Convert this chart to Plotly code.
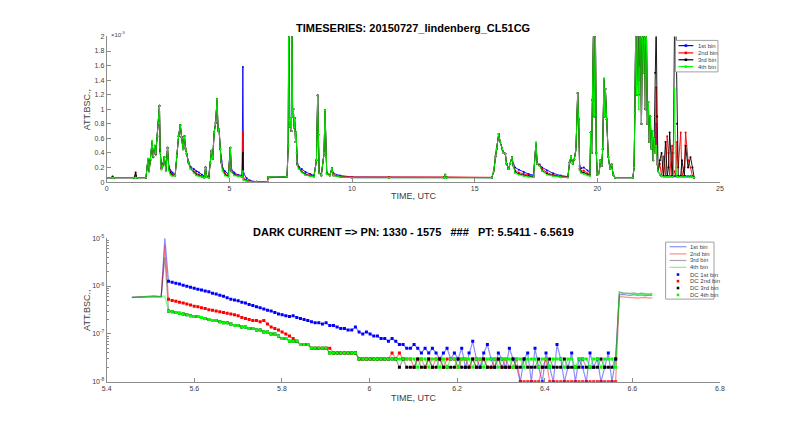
import numpy as np
import plotly.graph_objects as go

# ---------------- TOP PANEL DATA (values in 1e-6) ----------------
top_time = [0.00, 0.20, 0.24, 0.28, 1.12, 1.18, 1.22, 1.60, 1.68, 1.73, 1.78, 1.85, 1.90, 1.96, 2.00,
            2.06, 2.12, 2.15, 2.18, 2.23, 2.28, 2.35, 2.41, 2.48, 2.53, 2.60, 2.68, 2.79, 2.86, 2.93,
            3.00, 3.05, 3.11, 3.17, 3.21, 3.26, 3.33, 3.42, 3.55, 3.65, 3.76, 3.88, 3.98, 4.03, 4.07,
            4.16, 4.22, 4.27, 4.32, 4.38, 4.44, 4.50, 4.54, 4.58, 4.63, 4.67, 4.73, 4.82, 4.96, 5.04,
            5.08, 5.20, 5.35, 5.52, 5.55, 5.58, 5.70, 5.85, 6.10, 6.55, 6.58, 7.35, 7.40, 7.42, 7.45,
            7.47, 7.50, 7.53, 7.55, 7.58, 7.61, 7.64, 7.66, 7.70, 7.72, 7.75, 7.77, 7.83, 7.95, 8.10,
            8.30, 8.45, 8.55, 8.60, 8.63, 8.66, 8.75, 8.86, 8.90, 8.93, 8.97, 9.10, 9.18, 9.24, 9.50,
            10.0, 11.5, 13.75, 13.80, 13.85, 15.70, 15.78, 15.85, 15.90, 15.98, 16.04, 16.12, 16.18, 16.25, 16.30,
            16.38, 16.45, 16.52, 16.58, 16.65, 16.80, 17.00, 17.20, 17.40, 17.50, 17.55, 17.65, 17.75, 17.95, 18.20,
            18.50, 18.80, 18.87, 18.93, 19.00, 19.06, 19.13, 19.20, 19.24, 19.28, 19.35, 19.45, 19.60, 19.70, 19.73,
            19.77, 19.80, 19.85, 19.88, 19.92, 19.96, 20.00, 20.07, 20.13, 20.18, 20.22, 20.27, 20.30, 20.33, 20.38,
            20.45, 20.52, 20.58, 20.65, 20.72, 21.45, 21.50, 21.53, 21.57, 21.60, 21.64, 21.69, 21.72, 21.76, 21.80,
            21.84, 21.88, 21.92, 21.96, 22.00, 22.04, 22.08, 22.12, 22.16, 22.20, 22.24, 22.28, 22.32, 22.36, 22.40,
            22.44, 22.48, 22.55, 22.62, 22.70, 22.78, 22.85, 22.90, 22.95, 23.05, 23.10, 23.15, 23.20, 23.25, 23.30,
            23.40, 23.45, 23.55, 23.60, 23.70, 23.80, 23.88, 23.95]

top_bin1 = [0.6, 0.6, 0.6, 0.6, 0.6, 0.9, 0.6, 0.6, 3.0, 1.6, 3.0, 5.4, 3.4, 5.0, 3.8,
            6.3, 8.1, 10.5, 4.5, 2.0, 2.4, 3.4, 1.9, 4.7, 2.2, 1.6, 1.3, 1.0, 3.6, 6.3,
            7.8, 6.2, 4.5, 6.3, 4.6, 3.9, 2.8, 2.1, 1.8, 1.5, 1.3, 1.0, 0.8, 2.0, 0.8,
            0.8, 2.6, 4.3, 3.2, 6.8, 8.1, 11.4, 7.0, 7.3, 4.5, 3.0, 1.9, 1.5, 1.1, 4.7,
            1.8, 1.3, 1.0, 0.9, 15.8, 1.2, 0.55, 0.2, 0.05, 0.03, 0.65, 0.7, 5.0, 22, 8.5,
            7.6, 8.8, 7.0, 22, 9.0, 10.0, 7.5, 8.8, 5.5, 6.8, 4.0, 2.6, 2.1, 1.8, 1.4,
            1.1, 0.9, 3.0, 11.9, 6.5, 1.4, 1.0, 4.0, 9.9, 3.5, 1.3, 1.0, 1.9, 1.2, 0.9,
            0.7, 0.65, 0.65, 1.0, 0.65, 0.6, 1.5, 3.5, 4.5, 6.6, 5.5, 4.5, 4.0, 3.9, 2.5,
            1.8, 2.5, 3.4, 2.4, 2.0, 1.7, 1.4, 1.1, 0.95, 5.4, 2.5, 2.4, 2.0, 1.6, 1.2,
            0.9, 0.75, 2.7, 3.5, 2.5, 3.1, 4.5, 12.2, 8.6, 2.2, 1.9, 2.0, 1.6, 1.3, 6.8,
            4.0, 11.3, 22, 9.0, 22, 4.0, 1.0, 1.2, 3.0, 2.2, 4.5, 14.2, 9.0, 12.8, 8.6,
            3.4, 1.8, 2.4, 1.0, 0.6, 0.6, 2.0, 9.5, 22, 12, 22, 22, 16, 22, 8,
            22, 15, 22, 10, 22, 8, 11, 5.5, 9, 4.6, 7, 3.0, 6, 4, 8,
            2.5, 1.5, 1.0, 0.8, 0.8, 0.8, 0.8, 0.8, 0.8, 0.8, 0.8, 0.8, 0.8, 0.8, 0.8,
            0.8, 0.8, 0.8, 0.8, 0.8, 0.8, 0.8, 0.6]

top_bin2 = [0.6, 0.6, 0.8, 0.6, 0.6, 1.0, 0.6, 0.6, 3.1, 1.5, 3.0, 5.5, 3.4, 5.0, 3.8,
            6.3, 8.1, 10.5, 4.3, 1.9, 2.3, 3.4, 1.7, 4.7, 2.0, 1.4, 1.1, 0.9, 3.6, 6.3,
            7.8, 6.2, 4.5, 6.3, 4.6, 3.9, 2.7, 1.9, 1.5, 1.2, 1.0, 0.8, 0.7, 2.0, 0.7,
            0.7, 2.6, 4.3, 3.2, 6.8, 8.1, 11.4, 7.0, 7.3, 4.5, 2.8, 1.7, 1.2, 0.9, 4.7,
            1.6, 1.1, 0.9, 0.8, 6.9, 0.5, 0.27, 0.08, 0.03, 0.01, 0.58, 0.7, 5.0, 22, 8.5,
            7.6, 8.8, 7.0, 22, 9.0, 10.0, 7.5, 8.8, 5.5, 6.8, 4.0, 2.5, 1.95, 1.5, 1.1,
            0.9, 0.8, 3.0, 11.9, 6.5, 1.3, 0.9, 4.0, 9.9, 3.5, 1.2, 0.9, 1.9, 1.0, 0.8,
            0.7, 0.7, 0.7, 1.0, 0.7, 0.65, 1.5, 3.5, 4.5, 6.6, 5.5, 4.5, 4.0, 3.9, 2.5,
            1.8, 2.5, 3.4, 2.3, 1.6, 1.3, 1.1, 0.9, 0.8, 5.4, 2.5, 2.3, 1.8, 1.3, 1.0,
            0.8, 0.7, 2.7, 3.5, 2.5, 3.1, 4.5, 12.2, 8.6, 1.9, 1.5, 1.6, 1.2, 1.0, 6.8,
            4.0, 11.3, 22, 9.0, 22, 4.0, 1.0, 1.2, 3.0, 2.2, 4.5, 14.2, 9.0, 12.8, 8.6,
            3.4, 1.8, 2.4, 1.0, 0.6, 0.6, 2.0, 9.5, 22, 12, 22, 14, 22, 22, 8,
            22, 15, 22, 10, 22, 8, 11, 5.5, 9, 4.6, 7, 3.0, 6, 4, 13,
            2.5, 1.5, 2.5, 0.8, 3.5, 0.8, 6.3, 4.0, 0.8, 5.0, 0.8, 1.5, 0.8, 5.5, 2.0,
            6.8, 0.8, 2.0, 6.8, 3.0, 2.0, 0.8, 0.6]

top_bin3 = [0.6, 0.6, 0.7, 0.6, 0.6, 1.3, 0.6, 0.6, 3.2, 1.5, 3.1, 5.6, 3.5, 5.0, 3.9,
            6.3, 8.1, 10.5, 4.2, 1.8, 2.2, 3.4, 1.6, 4.7, 1.8, 1.2, 0.9, 0.9, 3.6, 6.3,
            7.8, 6.2, 4.5, 6.3, 4.6, 3.9, 2.7, 1.8, 1.3, 1.0, 0.9, 0.7, 0.6, 2.0, 0.7,
            0.6, 2.6, 4.3, 3.2, 6.8, 8.1, 11.4, 7.0, 7.3, 4.5, 2.7, 1.6, 1.0, 0.8, 4.7,
            1.5, 1.0, 0.8, 0.7, 4.0, 0.35, 0.17, 0.06, 0.03, 0.02, 0.7, 0.7, 5.0, 22, 8.5,
            7.6, 8.8, 7.0, 22, 9.0, 10.0, 7.5, 8.8, 5.5, 6.8, 4.0, 2.4, 1.85, 1.4, 1.0,
            0.85, 0.75, 3.0, 11.9, 6.5, 1.2, 0.9, 4.0, 9.9, 3.5, 1.1, 0.9, 1.9, 0.9, 0.7,
            0.6, 0.6, 0.6, 1.0, 0.6, 0.6, 1.5, 3.5, 4.5, 6.6, 5.5, 4.5, 4.0, 3.9, 2.5,
            1.8, 2.5, 3.4, 2.2, 1.4, 1.1, 0.9, 0.8, 0.7, 5.4, 2.5, 2.2, 1.6, 1.1, 0.9,
            0.7, 0.65, 2.7, 3.5, 2.5, 3.1, 4.5, 12.2, 8.6, 1.8, 1.3, 1.3, 1.0, 0.9, 6.8,
            4.0, 11.3, 22, 9.0, 22, 4.0, 1.0, 1.2, 3.0, 2.2, 4.5, 14.2, 9.0, 12.8, 8.6,
            3.4, 1.8, 2.4, 1.0, 0.6, 0.6, 2.0, 9.5, 22, 12, 22, 12, 22, 22, 8,
            22, 15, 22, 10, 22, 8, 11, 5.5, 9, 4.6, 7, 3.0, 6, 15, 22,
            9, 1.5, 3.0, 4.0, 0.8, 5.5, 0.8, 2.0, 6.8, 0.8, 4.0, 22, 22, 8.0, 0.8,
            0.8, 3.0, 0.8, 5.0, 2.0, 3.4, 2.0, 0.6]

top_bin4 = [0.6, 0.6, 0.6, 0.6, 0.6, 0.6, 0.6, 0.6, 3.2, 1.4, 3.2, 5.6, 3.5, 5.0, 3.9,
            6.3, 8.1, 10.5, 4.0, 1.7, 2.2, 3.4, 1.5, 4.7, 1.6, 1.0, 0.8, 0.9, 3.6, 6.3,
            7.8, 6.2, 4.5, 6.3, 4.6, 3.9, 2.7, 1.8, 1.2, 0.9, 0.8, 0.7, 0.6, 2.0, 0.7,
            0.6, 2.6, 4.3, 3.2, 6.8, 8.1, 11.4, 7.0, 7.3, 4.5, 2.6, 1.5, 0.9, 0.7, 4.7,
            1.4, 0.9, 0.8, 0.7, 1.5, 0.3, 0.15, 0.06, 0.03, 0.03, 0.68, 0.7, 5.0, 22, 8.5,
            7.6, 8.8, 7.0, 22, 9.0, 10.0, 7.5, 8.8, 5.5, 6.8, 4.0, 2.3, 1.8, 1.3, 0.95,
            0.8, 0.7, 3.0, 11.9, 6.5, 1.2, 0.9, 4.0, 9.9, 3.5, 1.1, 0.9, 1.9, 0.9, 0.7,
            0.6, 0.6, 0.6, 1.0, 0.6, 0.6, 1.5, 3.5, 4.5, 6.6, 5.5, 4.5, 4.0, 3.9, 2.5,
            1.8, 2.5, 3.4, 2.2, 1.2, 1.0, 0.8, 0.7, 0.65, 5.4, 2.5, 2.2, 1.5, 1.0, 0.8,
            0.65, 0.6, 2.7, 3.5, 2.5, 3.1, 4.5, 12.2, 8.6, 1.6, 1.2, 1.1, 0.9, 0.8, 6.8,
            4.0, 11.3, 22, 9.0, 22, 4.0, 1.0, 1.2, 3.0, 2.2, 4.5, 14.2, 9.0, 12.8, 8.6,
            3.4, 1.8, 2.4, 1.0, 0.6, 0.6, 2.0, 9.5, 22, 12, 22, 10, 22, 22, 8,
            22, 15, 22, 10, 22, 8, 11, 5.5, 9, 4.6, 7, 3.0, 6, 4, 5,
            2.5, 1.5, 1.0, 0.8, 0.7, 0.7, 0.7, 0.7, 0.7, 0.7, 0.7, 12.8, 2.0, 0.7, 0.7,
            0.7, 0.7, 0.7, 0.7, 0.7, 0.7, 0.7, 0.6]

top_xticks = [0, 5, 10, 15, 20, 25]
top_yticks = [0, 0.2, 0.4, 0.6, 0.8, 1, 1.2, 1.4, 1.6, 1.8, 2]  # x 1e-5
top_yticklabels = ["0", "0.2", "0.4", "0.6", "0.8", "1", "1.2", "1.4", "1.6", "1.8", "2"]

# ---------------- BOTTOM PANEL DATA (values in 1e-8) ----------------
dc_t_start, dc_t_end, dc_n = 5.5411, 6.5619, 123

dc_bin1 = [126, 120, 114, 110, 104, 99, 94, 90, 86, 83, 79, 76, 71, 68, 64, 61, 57, 53,
           51, 49, 46, 44, 41, 39, 37, 35, 33, 31, 30, 28, 26, 25, 24, 23, 24, 22,
           21, 20, 19, 18, 17, 17, 16, 17, 15, 15, 14, 13, 13, 12, 12, 14, 11, 10,
           11, 10, 9, 9, 8, 8, 7, 8, 7, 6, 6, 5, 5, 6, 5, 4, 5, 4,
           5, 4, 3, 4, 5, 3, 4, 3, 5, 2, 4, 7, 3, 2, 4, 6, 3, 2,
           4, 3, 2, 5, 3, 2, 1, 3, 4, 1, 5, 2, 1, 4, 2, 1, 6, 3,
           1, 2, 4, 1, 3, 2, 1, 4, 2, 3, 1, 2, 4, 1, 3]
dc_bin2 = [53, 50, 48, 46, 44, 42, 40, 38, 37, 35, 34, 32, 31, 30, 29, 28, 27, 26,
           25, 24, 22, 21, 20, 19, 19, 18, 19, 16, 14, 13, 12, 11, 10, 9, 8, 7,
           6, 6, 6, 5, 5, 5, 5, 5, 5, 4, 4, 4, 4, 4, 4, 4, 3, 3,
           3, 3, 3, 3, 3, 3, 3, 4, 3, 4, 3, 3, 3, 2, 3, 3, 2, 3,
           2, 3, 3, 2, 3, 3, 3, 2, 3, 3, 2, 3, 2, 3, 3, 2, 2, 3,
           3, 2, 3, 2, 2, 3, 1, 1, 1, 1, 1, 1, 2, 3, 1, 1, 1, 1,
           1, 1, 1, 1, 1, 1, 1, 1, 1, 1, 1, 1, 1, 1, 1]
dc_bin3 = [30, 29, 28, 27, 26, 25, 24, 23, 23, 22, 21, 20, 19, 19, 18, 17, 17, 16,
           15, 15, 14, 14, 13, 13, 12, 12, 11, 11, 10, 10, 9, 8, 8, 7, 7, 7,
           6, 6, 6, 5, 5, 5, 5, 5, 4, 4, 4, 4, 4, 4, 4, 4, 3, 3,
           3, 3, 3, 3, 3, 3, 3, 3, 3, 2, 3, 2, 2, 2, 3, 2, 2, 3,
           2, 2, 3, 2, 2, 2, 2, 3, 2, 2, 2, 3, 2, 2, 3, 2, 2, 2,
           3, 2, 2, 2, 3, 2, 2, 3, 2, 2, 2, 3, 2, 2, 3, 2, 2, 2,
           3, 2, 2, 2, 2, 3, 2, 2, 2, 2, 3, 2, 2, 2, 3]
dc_bin4 = [30, 29, 28, 27, 26, 25, 24, 23, 23, 22, 21, 20, 19, 19, 18, 17, 17, 16,
           15, 15, 14, 14, 13, 13, 12, 12, 11, 11, 10, 10, 9, 8, 8, 7, 7, 7,
           6, 6, 6, 5, 5, 5, 5, 5, 4, 4, 4, 4, 4, 4, 4, 4, 3, 3,
           3, 3, 3, 3, 3, 3, 3, 3, 3, 3, 3, 3, 3, 3, 2, 3, 3, 2,
           3, 3, 2, 3, 2, 3, 3, 2, 3, 3, 3, 2, 3, 3, 2, 3, 3, 3,
           2, 3, 3, 3, 2, 3, 3, 2, 3, 3, 3, 2, 3, 3, 2, 3, 3, 3,
           2, 3, 3, 2, 3, 3, 3, 2, 3, 3, 2, 3, 3, 3, 2]

pre_bin1 = [58, 58, 59, 59, 60, 60, 61, 60, 60, 1000]
pre_bin2 = [58, 58, 59, 59, 60, 60, 60, 60, 59, 700]
pre_bin3 = [58, 59, 59, 60, 60, 61, 62, 61, 60, 400]
pre_bin4 = [57, 58, 58, 59, 60, 61, 61, 60, 60, 62]
post_bin1 = [66, 67, 65, 64, 66, 64, 65, 63, 64, 64]
post_bin2 = [60, 59, 58, 57, 58, 56, 57, 58, 56, 57]
post_bin3 = [74, 72, 71, 70, 72, 69, 71, 70, 68, 70]
post_bin4 = [76, 70, 69, 68, 69, 67, 68, 66, 67, 67]

bot_xticks = [5.4, 5.6, 5.8, 6.0, 6.2, 6.4, 6.6, 6.8]
bot_xticklabels = ["5.4", "5.6", "5.8", "6", "6.2", "6.4", "6.6", "6.8"]
bot_yticks = [1e-8, 1e-7, 1e-6, 1e-5]
bot_yticklabels = ["10<sup>-8</sup>", "10<sup>-7</sup>", "10<sup>-6</sup>", "10<sup>-5</sup>"]

names = ["1st bin", "2nd bin", "3rd bin", "4th bin"]
colors = ["#0000ff", "#ff0000", "#000000", "#00ff00"]
light = ["rgba(0,0,255,0.45)", "rgba(255,0,0,0.45)", "rgba(0,0,0,0.35)", "rgba(0,255,0,0.55)"]

FONT = "Liberation Sans, Arial, Helvetica, sans-serif"
AX = "#8c8c8c"
TX = "#404040"
W, H = 800, 432

fig = go.Figure()

# top panel
tt = np.array(top_time)
for name, col, vals in zip(names, colors, [top_bin1, top_bin2, top_bin3, top_bin4]):
    fig.add_trace(go.Scatter(x=tt, y=np.array(vals) * 1e-6, mode="lines+markers", name=name,
                             line=dict(color=col, width=0.9), marker=dict(color=col, size=2),
                             xaxis="x", yaxis="y", showlegend=False))

# bottom panel
t_dc = np.linspace(dc_t_start, dc_t_end, dc_n)
step = t_dc[1] - t_dc[0]
t_pre = dc_t_start - step * np.arange(len(pre_bin1), 0, -1)
t_post = dc_t_end + step * np.arange(1, len(post_bin1) + 1)
t_full = np.concatenate([t_pre, t_dc, t_post])
dcs = [dc_bin1, dc_bin2, dc_bin3, dc_bin4]
pres = [pre_bin1, pre_bin2, pre_bin3, pre_bin4]
posts = [post_bin1, post_bin2, post_bin3, post_bin4]
for name, lc, pr, dc, po in zip(names, light, pres, dcs, posts):
    yv = np.concatenate([pr, dc, po]).astype(float) * 1e-8
    fig.add_trace(go.Scatter(x=t_full, y=yv, mode="lines", name=name,
                             line=dict(color=lc, width=1.2), xaxis="x2", yaxis="y2", showlegend=False))
for name, col, dc in zip(names, colors, dcs):
    fig.add_trace(go.Scatter(x=t_dc, y=np.array(dc, dtype=float) * 1e-8, mode="markers", name="DC " + name,
                             marker=dict(color=col, size=3, symbol="square", line=dict(width=0)),
                             xaxis="x2", yaxis="y2", showlegend=False))

xdom = [103 / W, 724 / W]
ydom_top = [1 - 181 / H, 1 - 33 / H]
ydom_bot = [1 - 384 / H, 1 - 238 / H]

axcommon = dict(showline=True, linecolor=AX, linewidth=1, ticks="inside", ticklen=4, tickcolor=AX,
                tickfont=dict(size=7, color=TX, family=FONT), showgrid=False, zeroline=False, mirror=False)

fig.update_layout(
    width=W, height=H, margin=dict(l=0, r=0, t=0, b=0),
    paper_bgcolor="white", plot_bgcolor="white",
    font=dict(family=FONT, color=TX), showlegend=False,
    xaxis=dict(domain=xdom, anchor="y", range=[0, 25], tickvals=top_xticks, **axcommon),
    yaxis=dict(domain=ydom_top, anchor="x", range=[0, 2e-5],
               tickvals=[v * 1e-5 for v in top_yticks], ticktext=top_yticklabels, **axcommon),
    xaxis2=dict(domain=xdom, anchor="y2", range=[5.4, 6.8], tickvals=bot_xticks, ticktext=bot_xticklabels, **axcommon),
    yaxis2=dict(domain=ydom_bot, anchor="x2", type="log", range=[-8, -5],
                tickvals=bot_yticks, ticktext=bot_yticklabels,
                minor=dict(tickvals=[k * 10.0 ** e for e in (-8, -7, -6) for k in range(2, 10)],
                           ticks="inside", ticklen=2, tickcolor=AX),
                **axcommon),
)


def px2paper(x, y):
    return x / W, 1 - y / H


def add_legend(box, rows, line_x0, line_x1, text_x, entries):
    x0, y0, x1, y1 = box
    fig.add_shape(type="rect", xref="paper", yref="paper",
                  x0=x0 / W, x1=x1 / W, y0=1 - y1 / H, y1=1 - y0 / H,
                  line=dict(color="#a0a0a0", width=1), fillcolor="white", layer="above")
    for ry, (label, lcol, dcol) in zip(rows, entries):
        if lcol is not None:
            fig.add_shape(type="line", xref="paper", yref="paper",
                          x0=line_x0 / W, x1=line_x1 / W, y0=1 - ry / H, y1=1 - ry / H,
                          line=dict(color=lcol, width=1.2), layer="above")
        if dcol is not None:
            cx = (line_x0 + line_x1) / 2
            fig.add_shape(type="rect", xref="paper", yref="paper",
                          x0=(cx - 1.3) / W, x1=(cx + 1.3) / W, y0=1 - (ry + 1.3) / H, y1=1 - (ry - 1.3) / H,
                          line=dict(width=0), fillcolor=dcol, layer="above")
        fig.add_annotation(xref="paper", yref="paper", x=text_x / W, y=1 - ry / H, text=label,
                           xanchor="left", yanchor="middle", showarrow=False,
                           font=dict(size=6, color=TX, family=FONT))


add_legend((679, 37, 722, 69), [42.3, 49.7, 56.7, 63.6], 682, 697, 700,
           [(n, c, c) for n, c in zip(names, colors)])
add_legend((669, 242, 718, 300), [246.7, 254, 260.7, 267.7, 275, 281.7, 288.7, 295.7], 673, 690, 692,
           [(n, lc, None) for n, lc in zip(names, light)] + [("DC " + n, None, c) for n, c in zip(names, colors)])

ann = [
    dict(text="<b>TIMESERIES: 20150727_lindenberg_CL51CG</b>", x=(xdom[0] + xdom[1]) / 2, y=1 - 24 / H,
         font=dict(size=11, color="black", family=FONT)),
    dict(text="<b>DARK CURRENT => PN: 1330 - 1575   ###   PT: 5.5411 - 6.5619</b>", x=(xdom[0] + xdom[1]) / 2,
         y=1 - 232 / H, font=dict(size=11, color="black", family=FONT)),
    dict(text="TIME, UTC", x=(xdom[0] + xdom[1]) / 2, y=1 - 195 / H, font=dict(size=9, color=TX, family=FONT)),
    dict(text="TIME, UTC", x=(xdom[0] + xdom[1]) / 2, y=1 - 400 / H, font=dict(size=9, color=TX, family=FONT)),
    dict(text="ATT.BSC.,", x=83 / W, y=1 - 107 / H, textangle=-90, font=dict(size=9, color=TX, family=FONT)),
    dict(text="ATT.BSC.,", x=83 / W, y=1 - 311 / H, textangle=-90, font=dict(size=9, color=TX, family=FONT)),
    dict(text="\u00d710<sup>-5</sup>", x=105 / W, y=1 - 30 / H, xanchor="left", font=dict(size=6, color=TX, family=FONT)),
]
for a in ann:
    a.setdefault("xanchor", "center")
    fig.add_annotation(xref="paper", yref="paper", yanchor="middle", showarrow=False, **a)

fig.write_html("out.html")
